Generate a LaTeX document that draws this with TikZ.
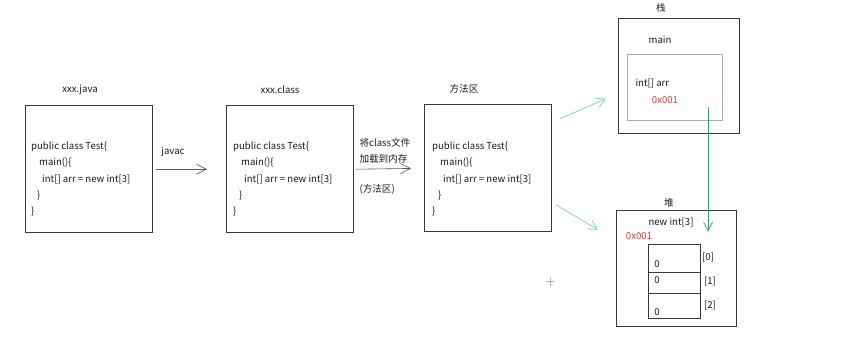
\documentclass[tikz,border=0pt]{standalone}
\usepackage{fontspec}
\setmainfont{Noto Sans CJK SC}
\usetikzlibrary{arrows.meta,positioning}
\definecolor{Frame}{HTML}{383838}
\definecolor{Soft}{HTML}{ABABAB}
\definecolor{Arrow}{HTML}{5A5A5A}
\definecolor{Green}{HTML}{3E9E62}
\definecolor{Mint}{HTML}{8FD3B5}
\definecolor{Addr}{HTML}{E03A3A}
\definecolor{Text}{HTML}{1A1A1A}

\newcommand{\testcode}{public class Test\{\\
\hspace*{8pt}main()\{\\
\hspace*{11pt}int[] arr = new int[3]\\
\hspace*{6pt}\}\\
\}}

\begin{document}
\begin{tikzpicture}[
    x=1pt, y=-1pt,
    font=\fontsize{9.6}{16.3}\selectfont,
    text=Text,
    box/.style={
        draw=Frame,
        line width=0.9pt,
        minimum width=127pt,
        minimum height=127pt,
        inner sep=0pt
    },
    code/.style={
        anchor=north west,
        align=left,
        inner sep=0pt
    },
    cell/.style={
        draw=Frame,
        line width=0.8pt,
        minimum width=52pt,
        inner sep=0pt
    },
    addr/.style={
        text=Addr
    },
    arrow/.style={
        -{Straight Barb[length=10pt,width=10pt]},
        line width=0.6pt,
        draw=Arrow
    },
    link/.style={
        -{Straight Barb[length=9pt,width=10pt]},
        line width=0.8pt,
        draw=Mint
    },
    pointer/.style={
        -{Straight Barb[length=9pt,width=9pt]},
        line width=0.7pt,
        draw=Green
    }
]

% Background
\fill[white] (0,0) rectangle (842,342);

% Source file
\node[box] (java) at (88.5,167.5) {};
\node (javaname) at (80,88) {xxx.java};
\node[code] (javacode) at (31,140) {\testcode};

% Compiled class file
\node[box] (cls) at (290,167.5) {};
\node (clsname) at (280,88) {xxx.class};
\node[code] (clscode) at (233,140) {\testcode};

\draw[arrow, shorten <=4pt, shorten >=19pt] (java.east) -- (cls.west);
\node (javac) at (173,150) {javac};

% Method area
\node[box] (method) at (488,166.5) {};
\node (methodname) at (464,87) {方法区};
\node[code] (methodcode) at (432,140) {\testcode};

\draw[arrow, shorten <=2pt, shorten >=13pt] (cls.east) -- (method.west);
\node[anchor=west] (load1) at (356,141) {将class文件};
\node[anchor=west] (load2) at (356,157) {加载到内存};
\node[anchor=west] (load3) at (356,188) {(方法区)};

% Stack
\node[box, minimum width=121pt, minimum height=115pt] (stack) at (678.5,74.5) {};
\node (stackname) at (661,6) {栈};
\node (mainname) at (660,38) {main};
\node[draw=Soft, line width=0.7pt, minimum width=95pt, minimum height=66pt, inner sep=0pt] (frame) at (674.5,86) {};
\node[anchor=west] (var) at (632,82) {int[] arr};
\node[addr] (varaddr) at (665,98) {0x001};

% Heap
\node[box, minimum width=120pt, minimum height=116pt] (heap) at (676,267) {};
\node (heapname) at (669,201) {堆};
\node (newarr) at (671,221) {new int[3]};
\node[addr] (heapaddr) at (639,234) {0x001};

\node[cell, minimum height=28pt] (cell0) at (674,257) {};
\node[cell, minimum height=21pt] (cell1) at (674,281.5) {};
\node[cell, minimum height=25pt] (cell2) at (674,304.5) {};
\node (val0) at (657,262) {0};
\node (val1) at (657,278) {0};
\node (val2) at (657,310) {0};
\node (idx0) at (708,256) {[0]};
\node (idx1) at (710,280) {[1]};
\node (idx2) at (710,304) {[2]};

% Links from the method area
\coordinate (outtop) at (560,117);
\coordinate (intop) at (606,97);
\coordinate (outbot) at (556,203);
\coordinate (inbot) at (598,228);
\draw[link] (outtop) -- (intop);
\draw[link] (outbot) -- (inbot);

% Reference to the array
\coordinate (reffrom) at (708,105);
\coordinate (refto) at (708,230);
\draw[pointer] (reffrom) -- (refto);

% Cursor mark
\coordinate (cursor) at (550,280);
\draw[Soft, line width=0.6pt] ([xshift=-4pt]cursor) -- ([xshift=4pt]cursor)
    ([yshift=-4pt]cursor) -- ([yshift=4pt]cursor);

\end{tikzpicture}
\end{document}
